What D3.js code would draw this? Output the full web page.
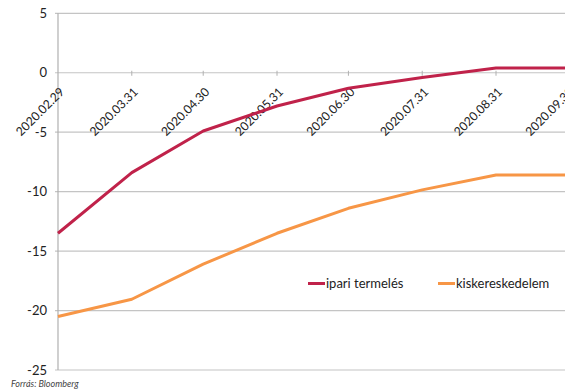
<!DOCTYPE html>
<html><head><meta charset="utf-8">
<script src="https://cdn.jsdelivr.net/npm/d3@7/dist/d3.min.js"></script>
<style>body{margin:0;background:#fff}svg{display:block}</style>
</head><body>
<script>
const dates = ["2020.02.29","2020.03.31","2020.04.30","2020.05.31","2020.06.30","2020.07.31","2020.08.31","2020.09.30"];
const ipari = [-13.5,-8.4,-4.9,-2.8,-1.3,-0.4,0.4,0.4];
const kisker = [-20.5,-19.05,-16.1,-13.5,-11.4,-9.85,-8.6,-8.6];
const yTicks = [5,0,-5,-10,-15,-20,-25];
const seriesNames = ["ipari termelés","kiskereskedelem"];
const colors = ["#c0224a","#f79646"];

const W=565,H=390;
const svg=d3.select("body").append("svg").attr("width",W).attr("height",H);
const parse=d3.timeParse("%Y.%m.%d");
const dd=dates.map(parse);
const x=d3.scaleTime().domain([dd[0],dd[6]]).range([58,496]);
const y=d3.scaleLinear().domain([-25,5]).range([370,13.3]);

// gridlines
svg.append("g").selectAll("line").data(yTicks).join("line")
  .attr("x1",55).attr("x2",W).attr("y1",d=>y(d)).attr("y2",d=>y(d))
  .attr("stroke","#c4c4c4").attr("stroke-width",1.2);
// y axis line
svg.append("line").attr("x1",58).attr("x2",58).attr("y1",y(5)).attr("y2",y(-25))
  .attr("stroke","#b0b0b0").attr("stroke-width",1.2);
// y labels
svg.append("g").selectAll("text").data(yTicks).join("text")
  .attr("x",47).attr("y",d=>y(d)).attr("dy","0.35em").attr("text-anchor","end")
  .attr("font-family","Lato, 'Open Sans', sans-serif").attr("font-size",13).attr("fill","#222")
  .text(d=>d);
// x axis ticks at 0
svg.append("g").selectAll("line").data(dd.slice(1)).join("line")
  .attr("x1",d=>x(d)).attr("x2",d=>x(d)).attr("y1",y(0)-2).attr("y2",y(0)+3)
  .attr("stroke","#b0b0b0").attr("stroke-width",1);
// x labels
svg.append("g").selectAll("text").data(dd).join("text")
  .attr("transform",d=>`translate(${x(d)+4},${y(0)+17}) rotate(-45)`)
  .attr("text-anchor","end").attr("dy","0.35em")
  .attr("font-family","Lato, 'Open Sans', sans-serif").attr("font-size",12.2).attr("fill","#222")
  .text((d,i)=>dates[i]);

const line=d3.line().x(d=>x(d[0])).y(d=>y(d[1]));
[ipari,kisker].forEach((s,i)=>{
  const pts=dd.map((d,j)=>[d,s[j]]);
  svg.append("path").attr("d",line(pts)).attr("fill","none")
    .attr("stroke",colors[i]).attr("stroke-width",3).attr("stroke-linejoin","round");
});

// legend
const lg=svg.append("g");
lg.append("rect").attr("x",300).attr("y",270).attr("width",260).attr("height",28).attr("fill","#fff");
const lx=[308,438];
seriesNames.forEach((n,i)=>{
  lg.append("line").attr("x1",lx[i]).attr("x2",lx[i]+17).attr("y1",283.5).attr("y2",283.5)
    .attr("stroke",colors[i]).attr("stroke-width",3);
  lg.append("text").attr("x",lx[i]+18).attr("y",283.5).attr("dy","0.35em")
    .attr("font-family","Lato, sans-serif").attr("font-size",13).attr("fill","#222").text(n);
});
// source
svg.append("text").attr("x",11).attr("y",387).attr("font-family","Lato, sans-serif")
  .attr("font-style","italic").attr("font-size",9).attr("fill","#444").text("Forrás: Bloomberg");
</script>
</body></html>
